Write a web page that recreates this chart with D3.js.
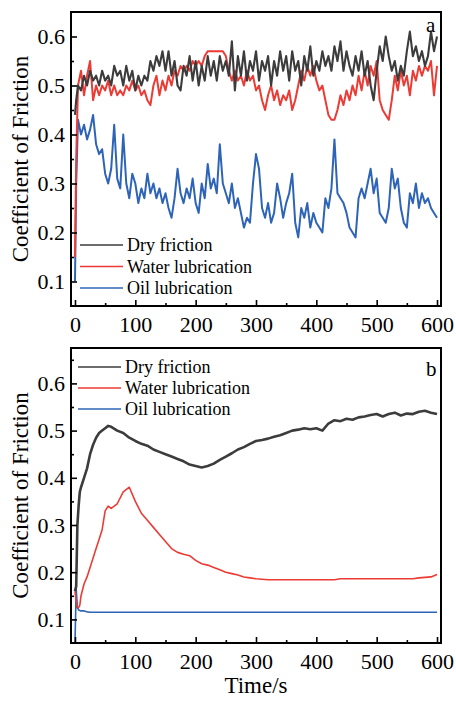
<!DOCTYPE html>
<html>
<head>
<meta charset="utf-8">
<script src="https://cdn.jsdelivr.net/npm/d3@7/dist/d3.min.js"></script>
<style>
	body { margin: 0; background: #fff; }
	text { font-family: "Liberation Serif", "Times New Roman", serif; fill: #000; }
</style>
</head>
<body>
<svg id="chart" width="456" height="701"></svg>
<script>
var seriesNames = ["Dry friction", "Water lubrication", "Oil lubrication"];

// panel a: sampled every 5 s after the start-up points
var timeA = [0, 2].concat(d3.range(5, 601, 5));
var dryA = [0.44, 0.47,
	0.50, 0.49, 0.52, 0.50, 0.53, 0.51, 0.52, 0.50, 0.53, 0.51,
	0.52, 0.50, 0.54, 0.52, 0.53, 0.50, 0.54, 0.51, 0.53, 0.49,
	0.52, 0.50, 0.52, 0.51, 0.55, 0.53, 0.56, 0.54, 0.57, 0.53,
	0.57, 0.52, 0.55, 0.50, 0.49, 0.54, 0.52, 0.56, 0.51, 0.55,
	0.50, 0.54, 0.51, 0.56, 0.52, 0.55, 0.51, 0.56, 0.53, 0.55,
	0.52, 0.59, 0.49, 0.56, 0.52, 0.57, 0.51, 0.55, 0.53, 0.57,
	0.51, 0.55, 0.53, 0.56, 0.50, 0.55, 0.52, 0.57, 0.53, 0.56,
	0.51, 0.57, 0.53, 0.55, 0.50, 0.56, 0.53, 0.58, 0.52, 0.55,
	0.53, 0.57, 0.54, 0.56, 0.53, 0.58, 0.55, 0.59, 0.53, 0.57,
	0.54, 0.52, 0.56, 0.53, 0.57, 0.52, 0.55, 0.50, 0.47, 0.53,
	0.58, 0.55, 0.60, 0.56, 0.53, 0.55, 0.51, 0.54, 0.52, 0.57,
	0.61, 0.56, 0.58, 0.55, 0.57, 0.54, 0.56, 0.61, 0.57, 0.60];
var waterA = [0.15, 0.35,
	0.50, 0.53, 0.48, 0.52, 0.55, 0.47, 0.50, 0.48, 0.50, 0.49,
	0.51, 0.48, 0.50, 0.48, 0.49, 0.48, 0.50, 0.49, 0.51, 0.49,
	0.50, 0.48, 0.49, 0.47, 0.46, 0.50, 0.52, 0.48, 0.51, 0.49,
	0.52, 0.50, 0.53, 0.52, 0.54, 0.53, 0.54, 0.53, 0.55, 0.54,
	0.55, 0.54, 0.56, 0.57, 0.57, 0.57, 0.57, 0.57, 0.57, 0.56,
	0.53, 0.51, 0.53, 0.51, 0.52, 0.50, 0.53, 0.51, 0.52, 0.49,
	0.50, 0.47, 0.45, 0.48, 0.50, 0.47, 0.49, 0.46, 0.48, 0.47,
	0.49, 0.45, 0.47, 0.50, 0.53, 0.51, 0.54, 0.52, 0.54, 0.51,
	0.49, 0.50, 0.47, 0.44, 0.43, 0.43, 0.45, 0.48, 0.46, 0.49,
	0.47, 0.50, 0.48, 0.52, 0.49, 0.53, 0.50, 0.54, 0.52, 0.55,
	0.47, 0.45, 0.44, 0.43, 0.47, 0.52, 0.49, 0.53, 0.50, 0.52,
	0.48, 0.53, 0.51, 0.54, 0.52, 0.54, 0.53, 0.55, 0.48, 0.54];
var oilA = [0.10, 0.30,
	0.43, 0.40, 0.42, 0.39, 0.41, 0.44, 0.38, 0.36, 0.37, 0.32,
	0.30, 0.33, 0.42, 0.31, 0.29, 0.40, 0.30, 0.27, 0.32, 0.30,
	0.26, 0.29, 0.27, 0.32, 0.28, 0.30, 0.27, 0.29, 0.26, 0.28,
	0.25, 0.23, 0.27, 0.33, 0.28, 0.26, 0.29, 0.27, 0.31, 0.26,
	0.24, 0.30, 0.27, 0.34, 0.29, 0.31, 0.28, 0.38, 0.30, 0.28,
	0.26, 0.30, 0.25, 0.27, 0.24, 0.21, 0.23, 0.22, 0.30, 0.36,
	0.33, 0.25, 0.23, 0.26, 0.22, 0.24, 0.30, 0.27, 0.23, 0.26,
	0.28, 0.32, 0.22, 0.19, 0.25, 0.23, 0.26, 0.21, 0.24, 0.22,
	0.21, 0.20, 0.27, 0.25, 0.29, 0.39, 0.28, 0.27, 0.26, 0.24,
	0.21, 0.20, 0.19, 0.27, 0.29, 0.27, 0.30, 0.33, 0.28, 0.31,
	0.24, 0.23, 0.22, 0.25, 0.33, 0.29, 0.31, 0.25, 0.22, 0.21,
	0.28, 0.26, 0.30, 0.25, 0.28, 0.26, 0.27, 0.25, 0.24, 0.23];

// panel b
var timeB = [0, 2, 4, 6, 8, 10, 15, 20, 25, 30, 35, 40, 45, 50, 55].concat(d3.range(60, 601, 10));
var dryB = [0.16, 0.17, 0.30, 0.34, 0.37, 0.38, 0.40, 0.42, 0.45, 0.47, 0.485, 0.495, 0.50, 0.505, 0.51,
	0.508, 0.50, 0.495, 0.485, 0.478, 0.472, 0.468, 0.46, 0.455, 0.45,
	0.445, 0.44, 0.435, 0.428, 0.425, 0.422, 0.425, 0.43, 0.438, 0.445,
	0.452, 0.46, 0.465, 0.472, 0.478, 0.48, 0.483, 0.487, 0.49, 0.495,
	0.50, 0.502, 0.505, 0.503, 0.505, 0.50, 0.515, 0.522, 0.52, 0.525,
	0.523, 0.528, 0.53, 0.533, 0.535, 0.53, 0.535, 0.538, 0.532, 0.536,
	0.535, 0.54, 0.542, 0.538, 0.535];
var waterB = [0.16, 0.14, 0.125, 0.125, 0.13, 0.15, 0.175, 0.19, 0.21, 0.23, 0.25, 0.27, 0.29, 0.33, 0.34,
	0.335, 0.345, 0.37, 0.38, 0.35, 0.325, 0.31, 0.295, 0.28, 0.265,
	0.25, 0.242, 0.238, 0.235, 0.225, 0.218, 0.215, 0.21, 0.205, 0.20,
	0.197, 0.194, 0.19, 0.188, 0.186, 0.185, 0.184, 0.184, 0.184, 0.184,
	0.184, 0.184, 0.184, 0.184, 0.184, 0.184, 0.184, 0.184, 0.186, 0.186,
	0.186, 0.186, 0.186, 0.186, 0.186, 0.186, 0.186, 0.186, 0.186, 0.186,
	0.186, 0.188, 0.189, 0.19, 0.195];
var oilB = [0.05, 0.165, 0.125, 0.12, 0.119, 0.118, 0.118, 0.116, 0.115, 0.115, 0.115, 0.115, 0.115, 0.115, 0.115,
	0.115, 0.115, 0.115, 0.115, 0.115, 0.115, 0.115, 0.115, 0.115, 0.115,
	0.115, 0.115, 0.115, 0.115, 0.115, 0.115, 0.115, 0.115, 0.115, 0.115,
	0.115, 0.115, 0.115, 0.115, 0.115, 0.115, 0.115, 0.115, 0.115, 0.115,
	0.115, 0.115, 0.115, 0.115, 0.115, 0.115, 0.115, 0.115, 0.115, 0.115,
	0.115, 0.115, 0.115, 0.115, 0.115, 0.115, 0.115, 0.115, 0.115, 0.115,
	0.115, 0.115, 0.115, 0.115, 0.115];

var xTicks = [0, 100, 200, 300, 400, 500, 600];
var xMinorTicks = [50, 150, 250, 350, 450, 550];
var yTicks = [0.1, 0.2, 0.3, 0.4, 0.5, 0.6];
var yMinorTicks = [0.15, 0.25, 0.35, 0.45, 0.55, 0.65];

var colors = ["#3c3c3c", "#ec3b35", "#2e64b8"];

var svg = d3.select("#chart");

function zip(t, v) {
	var n = Math.min(t.length, v.length), out = [];
	for (var i = 0; i < n; i++) out.push([t[i], v[i]]);
	return out;
}

/*
draw one panel.
*/
function panel(p) {
	var x = d3.scaleLinear().domain([-6.6, 606.6]).range([p.left, p.right]);
	var y = d3.scaleLinear().domain(p.yDomain).range([p.bottom, p.top]);
	var g = svg.append("g");

	g.append("clipPath").attr("id", "clip-" + p.tag)
		.append("rect")
		.attr("x", p.left).attr("y", p.top)
		.attr("width", p.right - p.left).attr("height", p.bottom - p.top);

	var line = d3.line()
		.x(function(d) { return x(d[0]); })
		.y(function(d) { return y(d[1]); });

	// oil first, dry on top like the original
	g.append("g").attr("clip-path", "url(#clip-" + p.tag + ")")
		.selectAll("path")
		.data(p.series.slice().reverse())
		.enter().append("path")
		.attr("d", function(d) { return line(zip(d.t, d.v)); })
		.attr("fill", "none")
		.attr("stroke", function(d) { return d.color; })
		.attr("stroke-width", function(d) { return d.width; })
		.attr("stroke-linejoin", "round");

	// axes with inward ticks
	g.append("g").attr("transform", "translate(0," + p.bottom + ")")
		.call(d3.axisBottom(x).tickValues(xTicks).tickSize(-6).tickPadding(10));
	g.append("g").attr("transform", "translate(0," + p.bottom + ")")
		.call(d3.axisBottom(x).tickValues(xMinorTicks).tickSize(-3).tickFormat(""));
	g.append("g").attr("transform", "translate(" + p.left + ",0)")
		.call(d3.axisLeft(y).tickValues(yTicks).tickSize(-6).tickPadding(6).tickFormat(d3.format(".1f")));
	g.append("g").attr("transform", "translate(" + p.left + ",0)")
		.call(d3.axisLeft(y).tickValues(yMinorTicks.filter(function(v) { return v < p.yDomain[1]; }))
			.tickSize(-3).tickFormat(""));

	g.selectAll(".domain").remove();
	g.selectAll(".tick line").attr("stroke", "#000").attr("stroke-width", 1.6);
	g.selectAll(".tick text").style("font-size", "22px").style("font-family", "'Liberation Serif', serif");

	g.append("rect")
		.attr("x", p.left).attr("y", p.top)
		.attr("width", p.right - p.left).attr("height", p.bottom - p.top)
		.attr("fill", "none").attr("stroke", "#000").attr("stroke-width", 2);

	// legend
	var leg = g.append("g").selectAll("g")
		.data(p.series).enter().append("g")
		.attr("transform", function(d, i) {
			return "translate(" + p.legend.x + "," + (p.legend.y + i * p.legend.step) + ")";
		});
	leg.append("line")
		.attr("x1", 0).attr("x2", 43)
		.attr("stroke", function(d) { return d.color; })
		.attr("stroke-width", 1.6);
	leg.append("text")
		.attr("x", 47).attr("dy", "0.35em")
		.style("font-size", "18px")
		.text(function(d) { return d.name; });

	g.append("text")
		.attr("x", p.right - 15).attr("y", p.top + p.tagDy)
		.style("font-size", "21px")
		.text(p.tag);

	g.append("text")
		.attr("transform", "translate(28," + ((p.top + p.bottom) / 2) + ") rotate(-90)")
		.attr("text-anchor", "middle")
		.style("font-size", "23px")
		.text("Coefficient of Friction");
}

panel({
	tag: "a", tagDy: 20,
	left: 71, right: 441, top: 12, bottom: 306,
	yDomain: [0.05, 0.65],
	legend: { x: 80, y: 245, step: 21.5 },
	series: [
		{ name: seriesNames[0], color: colors[0], width: 2.1, t: timeA, v: dryA },
		{ name: seriesNames[1], color: colors[1], width: 2, t: timeA, v: waterA },
		{ name: seriesNames[2], color: colors[2], width: 2, t: timeA, v: oilA }
	]
});

panel({
	tag: "b", tagDy: 28,
	left: 71, right: 441, top: 348, bottom: 643,
	yDomain: [0.05, 0.675],
	legend: { x: 78, y: 367, step: 21 },
	series: [
		{ name: seriesNames[0], color: colors[0], width: 2.6, t: timeB, v: dryB },
		{ name: seriesNames[1], color: colors[1], width: 1.6, t: timeB, v: waterB },
		{ name: seriesNames[2], color: colors[2], width: 1.6, t: timeB, v: oilB }
	]
});

svg.append("text")
	.attr("x", 256).attr("y", 693)
	.attr("text-anchor", "middle")
	.style("font-size", "23px")
	.text("Time/s");
</script>
</body>
</html>
